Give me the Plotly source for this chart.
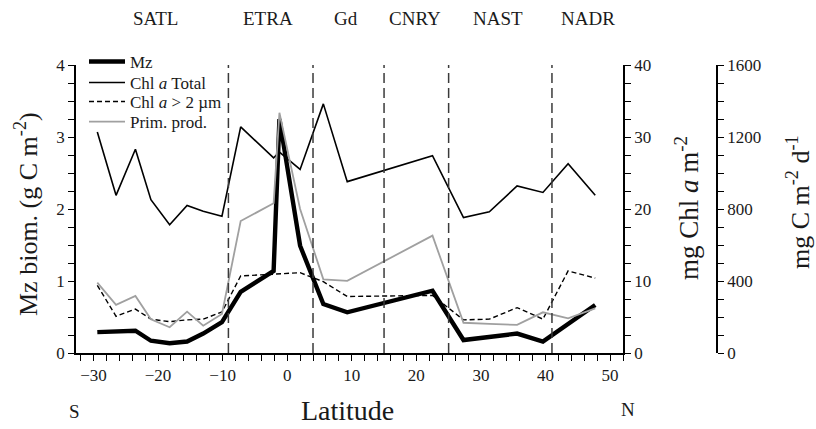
import plotly.graph_objects as go

# ---- data ----
lat = [-29.4, -26.5, -23.5, -21.1, -18.2, -15.5, -13.0, -10.1, -7.2, -2.1, -1.2,
       2.0, 5.6, 9.3, 22.5, 27.3, 31.3, 35.6, 39.6, 43.5, 47.7]
mz = [0.29, 0.30, 0.31, 0.17, 0.135, 0.16, 0.27, 0.43, 0.85, 1.14, 3.25,
      1.49, 0.68, 0.565, 0.865, 0.18, 0.22, 0.27, 0.16, 0.41, 0.667]
chl_total = [30.7, 21.9, 28.3, 21.3, 17.8, 20.5, 19.7, 19.0, 31.4, 27.1, 27.9,
             25.5, 34.6, 23.8, 27.4, 18.8, 19.6, 23.2, 22.3, 26.3, 21.9]
chl_gt2 = [9.4, 5.1, 6.1, 4.7, 4.35, 4.6, 4.7, 5.7, 10.7, 10.9, 11.0,
           11.15, 9.9, 7.85, 8.0, 4.6, 4.7, 6.3, 4.7, 11.4, 10.4]
prim_prod = [391, 267, 317, 187, 143, 230, 152, 217, 733, 832, 1335,
             800, 409, 401, 652, 168, 162, 156, 226, 193, 248]

province_names = ["SATL", "ETRA", "Gd", "CNRY", "NAST", "NADR"]
province_lat = [-20.4, -2.9, 9.1, 19.8, 32.7, 46.6]
boundaries = [-9.1, 4.0, 15.0, 25.0, 41.0]

FONT = "Liberation Serif, Times New Roman, serif"
TXT = "#1a1a1a"

# pixel geometry
L, R_AX, R3, TOP, BOT = 76, 623, 717, 65, 353
W, H = 816, 429
PW = R3 - L
PH = BOT - TOP


def px(xp):
    return (xp - L) / PW


def py(yp):
    return (BOT - yp) / PH


fig = go.Figure()
fig.add_trace(go.Scatter(x=lat, y=mz, name="Mz", mode="lines", legend="legend",
                         line=dict(color="black", width=4.4), yaxis="y"))
fig.add_trace(go.Scatter(x=lat, y=chl_total, name="Chl <i>a</i> Total", mode="lines",
                         legend="legend2", line=dict(color="black", width=1.6), yaxis="y2"))
fig.add_trace(go.Scatter(x=lat, y=chl_gt2, name="Chl <i>a</i> > 2 µm", mode="lines",
                         legend="legend3",
                         line=dict(color="black", width=1.4, dash="5px,3px"), yaxis="y2"))
fig.add_trace(go.Scatter(x=lat, y=prim_prod, name="Prim. prod.", mode="lines",
                         legend="legend4", line=dict(color="#a0a0a0", width=1.8), yaxis="y3"))

for b in boundaries:
    fig.add_shape(type="line", xref="x", yref="paper", x0=b, x1=b, y0=0, y1=1,
                  line=dict(color="#3a3a3a", width=1.5, dash="10px,5px"))

tickfont = dict(family=FONT, size=17, color=TXT)
axis_common = dict(showgrid=False, zeroline=False, showline=True, linecolor="black",
                   linewidth=1.5, ticks="outside", ticklen=6, tickwidth=1.3,
                   tickcolor="black", tickfont=tickfont)


def minor(d):
    return dict(dtick=d, ticks="outside", ticklen=6, tickwidth=1.3, tickcolor="black")


xd = px(R_AX)

legend_font = dict(family=FONT, size=17, color=TXT)


def leg(ycenter):
    return dict(x=px(84), y=py(ycenter), xanchor="left", yanchor="middle",
                bgcolor="rgba(0,0,0,0)", font=legend_font, itemwidth=36)


fig.update_layout(
    width=W, height=H,
    margin=dict(l=L, r=W - R3, t=TOP, b=H - BOT),
    paper_bgcolor="white", plot_bgcolor="white",
    font=dict(family=FONT, color=TXT),
    xaxis=dict(domain=[0, xd], range=[-32.7, 52], tick0=0, dtick=10,
               minor=minor(2), **axis_common),
    yaxis=dict(range=[0, 4], dtick=1, minor=minor(0.25), **axis_common),
    yaxis2=dict(range=[0, 40], dtick=10, overlaying="y", side="right", anchor="x",
                minor=minor(2.5), **axis_common),
    yaxis3=dict(range=[0, 1600], dtick=400, overlaying="y", side="right", anchor="free",
                position=1.0, minor=minor(100), **axis_common),
    legend=leg(62),
    legend2=leg(83),
    legend3=leg(102),
    legend4=leg(122),
    showlegend=True,
)

ann = []
for name, la in zip(province_names, province_lat):
    ann.append(dict(x=la, y=py(18), xref="x", yref="paper", text=name, showarrow=False,
                    xanchor="center", yanchor="middle",
                    font=dict(family=FONT, size=19, color=TXT)))


def title(x, y, text, size, angle=0):
    return dict(x=px(x), y=py(y), xref="paper", yref="paper", text=text, textangle=angle,
                showarrow=False, xanchor="center", yanchor="middle",
                font=dict(family=FONT, size=size, color=TXT))


ann.append(title(26, 214, "Mz biom. (g C m<sup>-2</sup>)", 26, -90))
ann.append(title(687, 208, "mg Chl <i>a</i> m<sup>-2</sup>", 27, -90))
ann.append(title(798, 202, "mg C m<sup>-2</sup> d<sup>-1</sup>", 26, -90))
ann.append(title(347, 410, "Latitude", 28))
ann.append(title(74, 411, "S", 19))
ann.append(title(628, 409, "N", 19))
fig.update_layout(annotations=ann)

fig.write_html("out.html")
